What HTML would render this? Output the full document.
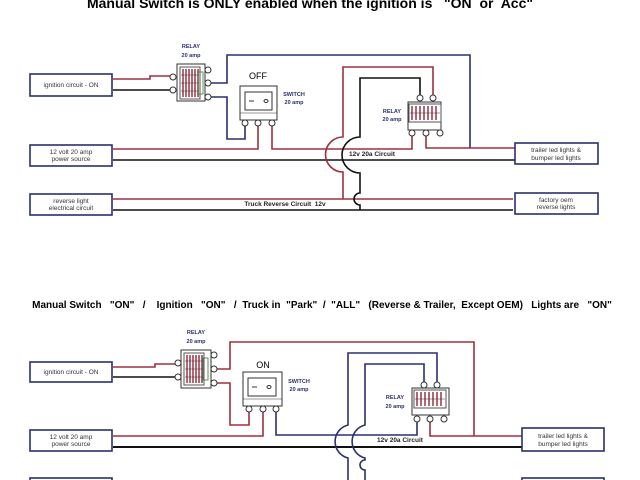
<!DOCTYPE html>
<html><head><meta charset="utf-8"><style>
html,body{margin:0;padding:0;background:#fff;width:640px;height:480px;overflow:hidden}
svg{display:block}
text{font-family:"Liberation Sans",sans-serif}
.pre{white-space:pre}
</style></head><body>
<svg width="640" height="480" viewBox="0 0 640 480" xmlns="http://www.w3.org/2000/svg">
<defs>
<g id="coil">
  <rect x="0" y="0" width="20" height="32" fill="#fff" stroke="#555" stroke-width="1"/>
  <g stroke="#a04050" stroke-width="1.6">
    <line x1="3" y1="2" x2="3" y2="30"/><line x1="6" y1="2" x2="6" y2="30"/><line x1="9" y1="2" x2="9" y2="30"/>
    <line x1="12" y1="2" x2="12" y2="30"/><line x1="15" y1="2" x2="15" y2="30"/><line x1="18" y1="2" x2="18" y2="30"/>
  </g>
  <g stroke="#333" stroke-width="0.6">
    <line x1="1" y1="8" x2="19" y2="8"/><line x1="1" y1="16" x2="19" y2="16"/><line x1="1" y1="24" x2="19" y2="24"/>
  </g>
</g>
<g id="hcoil">
  <rect x="0" y="0" width="32" height="18" fill="#fff" stroke="#555" stroke-width="1"/>
  <g stroke="#a04050" stroke-width="1.6">
    <line x1="3" y1="2" x2="3" y2="16"/><line x1="7" y1="2" x2="7" y2="16"/><line x1="11" y1="2" x2="11" y2="16"/>
    <line x1="15" y1="2" x2="15" y2="16"/><line x1="19" y1="2" x2="19" y2="16"/><line x1="23" y1="2" x2="23" y2="16"/><line x1="27" y1="2" x2="27" y2="16"/>
  </g>
  <line x1="1" y1="9" x2="31" y2="9" stroke="#333" stroke-width="0.6"/>
</g>
</defs>

<!-- ===== TOP ===== -->
<text class="pre" x="310" y="8" font-size="14" font-weight="bold" text-anchor="middle">Manual Switch is ONLY enabled when the ignition is   "ON  or  Acc"</text>

<g fill="none" stroke-width="1.6">
  <polyline points="113,79 150,79 150,76 173,76" stroke="#a03040"/>
  <line x1="113" y1="90" x2="173" y2="90" stroke="#111"/>
  <polyline points="211,83 227,83 227,55 470,55 470,148" stroke="#2a3070"/>
  <polyline points="211,97 227,97 227,139 245,139 245,126" stroke="#2a3070"/>
  <polyline points="113,149 258,149 258,126" stroke="#a03040"/>
  <polyline points="272,126 272,149 412,149 412,136" stroke="#a03040"/>
  <polyline points="426,136 426,148 515,148" stroke="#a03040"/>
  <line x1="113" y1="160" x2="515" y2="160" stroke="#111"/>
  <line x1="113" y1="199" x2="513" y2="199" stroke="#a03040"/>
  <line x1="113" y1="210" x2="513" y2="210" stroke="#111"/>
  <path d="M343,199 L343,172 A17,17 0 0 1 343,137 L343,67 L433,67 L433,96" stroke="#a03040"/>
  <path d="M360,210 L360,205 A6,6 0 0 1 360,193 L360,173 A18,18 0 0 1 360,137 L360,78 L420,78 L420,96" stroke="#111"/>
</g>

<g fill="#fff" stroke="#2a3070" stroke-width="1.6">
  <rect x="30" y="74" width="82" height="22"/>
  <rect x="30" y="145" width="82" height="21"/>
  <rect x="30" y="194" width="82" height="21"/>
  <rect x="515" y="143" width="83" height="21"/>
  <rect x="515" y="193" width="83" height="21"/>
</g>
<g font-size="6.5" fill="#333" text-anchor="middle">
  <text x="71" y="87">ignition circuit - ON</text>
  <text x="71" y="154">12 volt 20 amp</text><text x="71" y="161">power source</text>
  <text x="71" y="203">reverse light</text><text x="71" y="210">electrical circuit</text>
  <text x="556" y="152">trailer led lights &amp;</text><text x="556" y="160">bumper led lights</text>
  <text x="556" y="202">factory oem</text><text x="556" y="209">reverse lights</text>
  <text x="372" y="156" font-weight="bold" fill="#222">12v 20a Circuit</text>
  <text class="pre" x="285" y="206" font-weight="bold" fill="#222">Truck Reverse Circuit  12v</text>
</g>

<rect x="177" y="64" width="28" height="37" fill="#fff" stroke="#333" stroke-width="1"/>
<use href="#coil" x="180" y="67"/>
<rect x="198" y="72" width="5" height="22" fill="none" stroke="#3a7a3a" stroke-width="0.8"/>
<g fill="#fff" stroke="#333" stroke-width="1">
  <circle cx="173" cy="77" r="3"/><circle cx="173" cy="90" r="3"/>
  <circle cx="208" cy="70" r="3"/><circle cx="208" cy="83" r="3"/><circle cx="208" cy="97" r="3"/>
</g>
<g font-size="5.5" font-weight="bold" fill="#2a3070" text-anchor="middle">
  <text x="191" y="48">RELAY</text><text x="191" y="57">20 amp</text>
</g>

<rect x="240" y="86" width="37" height="34" fill="#fff" stroke="#333" stroke-width="1"/>
<rect x="245" y="92" width="27" height="18" fill="#fff" stroke="#333" stroke-width="1"/>
<line x1="249" y1="101" x2="254" y2="101" stroke="#333"/>
<ellipse cx="266" cy="101" rx="2" ry="1.5" fill="none" stroke="#333"/>
<line x1="240" y1="113" x2="277" y2="113" stroke="#333" stroke-width="0.6"/>
<g fill="#fff" stroke="#333" stroke-width="1">
  <circle cx="245" cy="123" r="3"/><circle cx="258" cy="123" r="3"/><circle cx="272" cy="123" r="3"/>
</g>
<text x="258" y="79" font-size="9" text-anchor="middle">OFF</text>
<g font-size="5.5" font-weight="bold" fill="#2a3070" text-anchor="middle">
  <text x="294" y="96">SWITCH</text><text x="294" y="104">20 amp</text>
</g>

<rect x="408" y="102" width="33" height="28" fill="#fff" stroke="#333" stroke-width="1"/>
<use href="#hcoil" x="409" y="104"/>
<g fill="#fff" stroke="#333" stroke-width="1">
  <circle cx="420" cy="98" r="3"/><circle cx="433" cy="98" r="3"/>
  <circle cx="412" cy="133" r="3"/><circle cx="426" cy="133" r="3"/><circle cx="440" cy="133" r="3"/>
</g>
<g font-size="5.5" font-weight="bold" fill="#2a3070" text-anchor="middle">
  <text x="392" y="113">RELAY</text><text x="392" y="121">20 amp</text>
</g>

<!-- ===== BOTTOM ===== -->
<text class="pre" x="322" y="308" font-size="10" font-weight="bold" text-anchor="middle">Manual Switch   "ON"   /    Ignition   "ON"   /  Truck in  "Park"  /  "ALL"   (Reverse &amp; Trailer,  Except OEM)   Lights are   "ON"</text>

<g fill="none" stroke-width="1.6">
  <polyline points="113,367 155,367 155,364 178,364" stroke="#a03040"/>
  <line x1="113" y1="377" x2="178" y2="377" stroke="#111"/>
  <polyline points="214,369 230,369 230,342 474,342 474,436" stroke="#a03040"/>
  <polyline points="214,383 230,383 230,425 249,425 249,412" stroke="#a03040"/>
  <polyline points="113,436 263,436 263,412" stroke="#a03040"/>
  <polyline points="276,412 276,435 417,435 417,422" stroke="#2a3070"/>
  <polyline points="430,422 430,436 522,436" stroke="#a03040"/>
  <line x1="113" y1="447" x2="522" y2="447" stroke="#111" stroke-width="2"/>
  <path d="M348,480 L348,458 A17,17 0 0 1 348,425 L348,353 L437,353 L437,382" stroke="#2a3070"/>
  <path d="M365,480 L365,470 A5,5 0 0 1 365,460 L365,458 A17,17 0 0 1 365,425 L365,364 L424,364 L424,382" stroke="#2a3070"/>
</g>
<g fill="#fff" stroke="#2a3070" stroke-width="1.6">
  <rect x="30" y="362" width="82" height="20"/>
  <rect x="30" y="430" width="82" height="21"/>
  <rect x="30" y="478" width="82" height="10"/>
  <rect x="522" y="428" width="82" height="23"/>
  <rect x="522" y="478" width="82" height="10"/>
</g>
<g font-size="6.5" fill="#333" text-anchor="middle">
  <text x="71" y="374">ignition circuit - ON</text>
  <text x="71" y="439">12 volt 20 amp</text><text x="71" y="446">power source</text>
  <text x="563" y="438">trailer led lights &amp;</text><text x="563" y="446">bumper led lights</text>
  <text x="400" y="442" font-weight="bold" fill="#222">12v 20a Circuit</text>
</g>

<rect x="181" y="350" width="30" height="38" fill="#fff" stroke="#333" stroke-width="1"/>
<use href="#coil" x="184" y="353"/>
<rect x="203" y="358" width="5" height="22" fill="none" stroke="#3a7a3a" stroke-width="0.8"/>
<g fill="#fff" stroke="#333" stroke-width="1">
  <circle cx="178" cy="363" r="3"/><circle cx="178" cy="377" r="3"/>
  <circle cx="214" cy="355" r="3"/><circle cx="214" cy="369" r="3"/><circle cx="214" cy="383" r="3"/>
</g>
<g font-size="5.5" font-weight="bold" fill="#2a3070" text-anchor="middle">
  <text x="196" y="334">RELAY</text><text x="196" y="343">20 amp</text>
</g>

<rect x="243" y="372" width="39" height="34" fill="#fff" stroke="#333" stroke-width="1"/>
<rect x="248" y="378" width="28" height="18" fill="#fff" stroke="#333" stroke-width="1"/>
<line x1="252" y1="387" x2="257" y2="387" stroke="#333"/>
<ellipse cx="269" cy="387" rx="2" ry="1.5" fill="none" stroke="#333"/>
<line x1="243" y1="399" x2="282" y2="399" stroke="#333" stroke-width="0.6"/>
<g fill="#fff" stroke="#333" stroke-width="1">
  <circle cx="249" cy="409" r="3"/><circle cx="263" cy="409" r="3"/><circle cx="276" cy="409" r="3"/>
</g>
<text x="263" y="368" font-size="9" text-anchor="middle">ON</text>
<g font-size="5.5" font-weight="bold" fill="#2a3070" text-anchor="middle">
  <text x="299" y="383">SWITCH</text><text x="299" y="391">20 amp</text>
</g>

<rect x="412" y="388" width="37" height="27" fill="#fff" stroke="#333" stroke-width="1"/>
<use href="#hcoil" x="414" y="390"/>
<g fill="#fff" stroke="#333" stroke-width="1">
  <circle cx="424" cy="385" r="3"/><circle cx="437" cy="385" r="3"/>
  <circle cx="417" cy="419" r="3"/><circle cx="430" cy="419" r="3"/><circle cx="444" cy="419" r="3"/>
</g>
<g font-size="5.5" font-weight="bold" fill="#2a3070" text-anchor="middle">
  <text x="395" y="399">RELAY</text><text x="395" y="408">20 amp</text>
</g>
</svg>
</body></html>
